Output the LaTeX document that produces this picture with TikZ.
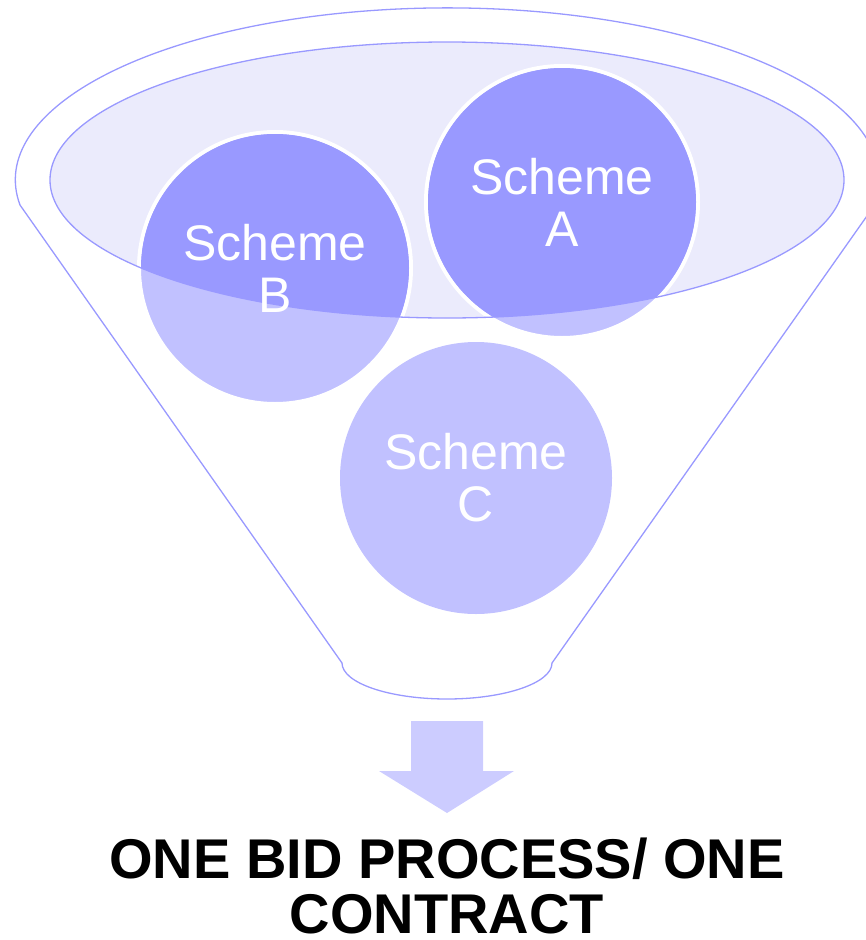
\documentclass[tikz,border=0pt]{standalone}
\usepackage{fontspec}
\setmainfont{Liberation Sans}
\usetikzlibrary{positioning}

\definecolor{funnelblue}{RGB}{153,153,255}
\definecolor{rimfill}{RGB}{235,235,252}
\definecolor{schemelight}{RGB}{193,193,255}
\definecolor{schemedark}{RGB}{153,153,255}
\definecolor{arrowfill}{RGB}{204,204,255}

\begin{document}
\begin{tikzpicture}[x=1pt,y=1pt,
  scheme/.style={circle,fill=schemelight,draw=white,line width=4pt,minimum size=272pt,inner sep=0pt},
  schemetext/.style={text=white,align=center,inner sep=0pt,font=\fontsize{50}{52}\selectfont},
  funnelline/.style={funnelblue,line width=1.3pt}]
 \useasboundingbox (0,0) rectangle (866,-940);
 % funnel body
 \draw[funnelline] (20,-205) arc[start angle=188.4,end angle=-8.4,x radius=432,y radius=172]
   -- (552,-663) arc[start angle=0,end angle=-180,x radius=105,y radius=36] -- cycle;
 % rim
 \fill[rimfill] (447,-180) ellipse[x radius=397,y radius=138];
 % schemes
 \node[scheme] (schA) at (562,-202) {};
 \node[scheme] (schB) at (275,-268) {};
 \node[scheme,draw=none] (schC) at (476,-478) {};
 \begin{scope}
  \clip (447,-180) ellipse[x radius=397,y radius=138];
  \fill[schemedark] (schA) circle (134);
  \fill[schemedark] (schB) circle (134);
 \end{scope}
 \draw[funnelline] (447,-180) ellipse[x radius=397,y radius=138];
 \node[schemetext] (labA) at (schA) {Scheme\\A};
 \node[schemetext] (labB) at (schB) {Scheme\\B};
 \node[schemetext] (labC) at (schC) {Scheme\\C};
 % arrow
 \fill[arrowfill] (411,-721) -- (483,-721) -- (483,-771) -- (514,-771) -- (447,-813)
   -- (379,-771) -- (411,-771) -- cycle;
 \node[align=center,inner sep=0pt,text depth=0pt,anchor=south,font=\bfseries\fontsize{56}{55}\selectfont] (result) at (447,-934) {ONE BID PROCESS/ ONE\\CONTRACT};
\end{tikzpicture}
\end{document}
